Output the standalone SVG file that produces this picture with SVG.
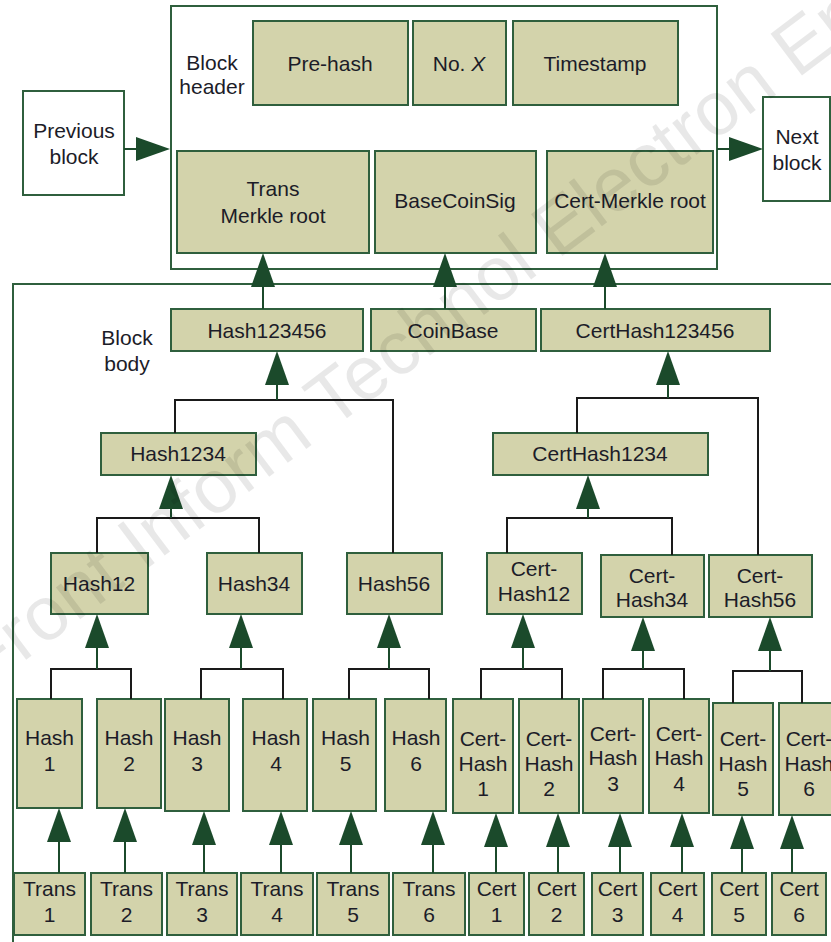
<svg xmlns="http://www.w3.org/2000/svg" width="831" height="942" viewBox="0 0 831 942">
<style>
.box{fill:#d3d3ab;stroke:#2f5f3d;stroke-width:2}
.wbox{fill:#fff;stroke:#2f5f3d;stroke-width:2}
.frame{fill:none;stroke:#2f5f3d;stroke-width:2}
text{font-family:"Liberation Sans",Arial,sans-serif;font-size:21px;fill:#1c1c28;text-anchor:middle}
.bar{fill:none;stroke:#1a1a1a;stroke-width:2}
.arr{stroke:#1b4a2b;stroke-width:2;marker-end:url(#ah)}
.wm{font-size:76px;fill:#000;fill-opacity:0.09;text-anchor:start}
</style>
<defs>
<marker id="ah" viewBox="0 0 34 24" refX="30" refY="12" markerWidth="34" markerHeight="24" markerUnits="userSpaceOnUse" orient="auto">
<path d="M0,0 L34,12 L0,24 Z" fill="#1b4a2b"/>
</marker>
</defs>
<rect width="831" height="942" fill="#fff"/>
<g id="header-frame"><rect class="frame" x="171" y="6" width="546" height="263"/><text><tspan x="212" y="69.5">Block</tspan><tspan x="212" y="93.5">header</tspan></text></g>
<g id="body-frame"><rect class="frame" x="13" y="284" width="840" height="700"/><text><tspan x="127" y="344.5">Block</tspan><tspan x="127" y="370.5">body</tspan></text></g>
<g id="prev"><rect class="wbox" x="23" y="91" width="101" height="104"/><text><tspan x="74" y="138">Previous</tspan><tspan x="74" y="164">block</tspan></text></g>
<g id="next"><rect class="wbox" x="763" y="97" width="67" height="104"/><text><tspan x="797" y="144">Next</tspan><tspan x="797" y="170">block</tspan></text></g>
<g id="prehash"><rect class="box" x="253" y="21" width="155" height="84"/><text x="330" y="70.5">Pre-hash</text></g>
<g id="nox"><rect class="box" x="413" y="21" width="93" height="84"/><text x="459" y="70.5">No. <tspan font-style="italic">X</tspan></text></g>
<g id="timestamp"><rect class="box" x="513" y="21" width="165" height="84"/><text x="595" y="70.5">Timestamp</text></g>
<g id="transroot"><rect class="box" x="177" y="151" width="192" height="102"/><text><tspan x="273" y="195.5">Trans</tspan><tspan x="273" y="222.5">Merkle root</tspan></text></g>
<g id="basecoinsig"><rect class="box" x="375" y="151" width="161" height="102"/><text x="455" y="207.5">BaseCoinSig</text></g>
<g id="certroot"><rect class="box" x="547" y="151" width="166" height="102"/><text x="630" y="207.5">Cert-Merkle root</text></g>
<g id="hash123456"><rect class="box" x="171" y="309" width="192" height="42"/><text x="267" y="337.5">Hash123456</text></g>
<g id="coinbase"><rect class="box" x="371" y="309" width="165" height="42"/><text x="453" y="337.5">CoinBase</text></g>
<g id="certhash123456"><rect class="box" x="541" y="309" width="229" height="42"/><text x="655" y="337.5">CertHash123456</text></g>
<g id="hash1234"><rect class="box" x="101" y="433" width="155" height="42"/><text x="178" y="460.5">Hash1234</text></g>
<g id="certhash1234"><rect class="box" x="493" y="433" width="215" height="42"/><text x="600" y="460.5">CertHash1234</text></g>
<g id="hash12"><rect class="box" x="51" y="553" width="97" height="61"/><text x="99" y="590.5">Hash12</text></g>
<g id="hash34"><rect class="box" x="207" y="553" width="95" height="61"/><text x="254" y="590.5">Hash34</text></g>
<g id="hash56"><rect class="box" x="347" y="553" width="95" height="61"/><text x="394" y="590.5">Hash56</text></g>
<g id="certhash12"><rect class="box" x="487" y="553" width="95" height="61"/><text><tspan x="534" y="575.5">Cert-</tspan><tspan x="534" y="600.5">Hash12</tspan></text></g>
<g id="certhash34"><rect class="box" x="601" y="555" width="103" height="62"/><text><tspan x="652" y="582.5">Cert-</tspan><tspan x="652" y="606.5">Hash34</tspan></text></g>
<g id="certhash56"><rect class="box" x="709" y="555" width="103" height="62"/><text><tspan x="760" y="582.5">Cert-</tspan><tspan x="760" y="606.5">Hash56</tspan></text></g>
<g id="hash1"><rect class="box" x="17" y="699" width="65" height="109"/><text><tspan x="49.5" y="744.5">Hash</tspan><tspan x="49.5" y="770.5">1</tspan></text></g>
<g id="hash2"><rect class="box" x="97" y="699" width="64" height="109"/><text><tspan x="129" y="744.5">Hash</tspan><tspan x="129" y="770.5">2</tspan></text></g>
<g id="hash3"><rect class="box" x="165" y="699" width="64" height="112"/><text><tspan x="197" y="744.5">Hash</tspan><tspan x="197" y="770.5">3</tspan></text></g>
<g id="hash4"><rect class="box" x="243" y="699" width="64" height="112"/><text><tspan x="276" y="744.5">Hash</tspan><tspan x="276" y="770.5">4</tspan></text></g>
<g id="hash5"><rect class="box" x="313" y="699" width="63" height="112"/><text><tspan x="345.5" y="744.5">Hash</tspan><tspan x="345.5" y="770.5">5</tspan></text></g>
<g id="hash6"><rect class="box" x="385" y="699" width="61" height="112"/><text><tspan x="416" y="744.5">Hash</tspan><tspan x="416" y="770.5">6</tspan></text></g>
<g id="certhash1"><rect class="box" x="453" y="699" width="60" height="114"/><text><tspan x="483" y="745.5">Cert-</tspan><tspan x="483" y="770.5">Hash</tspan><tspan x="483" y="795.5">1</tspan></text></g>
<g id="certhash2"><rect class="box" x="519" y="699" width="60" height="114"/><text><tspan x="549" y="745.5">Cert-</tspan><tspan x="549" y="770.5">Hash</tspan><tspan x="549" y="795.5">2</tspan></text></g>
<g id="certhash3"><rect class="box" x="583" y="699" width="60" height="114"/><text><tspan x="613" y="740.5">Cert-</tspan><tspan x="613" y="764.5">Hash</tspan><tspan x="613" y="790.5">3</tspan></text></g>
<g id="certhash4"><rect class="box" x="649" y="699" width="60" height="114"/><text><tspan x="679" y="740.5">Cert-</tspan><tspan x="679" y="764.5">Hash</tspan><tspan x="679" y="790.5">4</tspan></text></g>
<g id="certhash5"><rect class="box" x="713" y="703" width="60" height="112"/><text><tspan x="743" y="745.5">Cert-</tspan><tspan x="743" y="770.5">Hash</tspan><tspan x="743" y="795.5">5</tspan></text></g>
<g id="certhash6"><rect class="box" x="779" y="703" width="60" height="112"/><text><tspan x="809" y="745.5">Cert-</tspan><tspan x="809" y="770.5">Hash</tspan><tspan x="809" y="795.5">6</tspan></text></g>
<g id="trans1"><rect class="box" x="14" y="873" width="71" height="62"/><text><tspan x="49.5" y="895.5">Trans</tspan><tspan x="49.5" y="921.5">1</tspan></text></g>
<g id="trans2"><rect class="box" x="91" y="873" width="71" height="62"/><text><tspan x="126.5" y="895.5">Trans</tspan><tspan x="126.5" y="921.5">2</tspan></text></g>
<g id="trans3"><rect class="box" x="167" y="873" width="70" height="62"/><text><tspan x="202" y="895.5">Trans</tspan><tspan x="202" y="921.5">3</tspan></text></g>
<g id="trans4"><rect class="box" x="241" y="873" width="72" height="62"/><text><tspan x="277" y="895.5">Trans</tspan><tspan x="277" y="921.5">4</tspan></text></g>
<g id="trans5"><rect class="box" x="317" y="873" width="72" height="62"/><text><tspan x="353" y="895.5">Trans</tspan><tspan x="353" y="921.5">5</tspan></text></g>
<g id="trans6"><rect class="box" x="393" y="873" width="72" height="62"/><text><tspan x="429" y="895.5">Trans</tspan><tspan x="429" y="921.5">6</tspan></text></g>
<g id="cert1"><rect class="box" x="469" y="873" width="55" height="62"/><text><tspan x="496.5" y="895.5">Cert</tspan><tspan x="496.5" y="921.5">1</tspan></text></g>
<g id="cert2"><rect class="box" x="529" y="873" width="55" height="62"/><text><tspan x="556.5" y="895.5">Cert</tspan><tspan x="556.5" y="921.5">2</tspan></text></g>
<g id="cert3"><rect class="box" x="592" y="873" width="51" height="62"/><text><tspan x="617.5" y="895.5">Cert</tspan><tspan x="617.5" y="921.5">3</tspan></text></g>
<g id="cert4"><rect class="box" x="651" y="873" width="53" height="62"/><text><tspan x="677.5" y="895.5">Cert</tspan><tspan x="677.5" y="921.5">4</tspan></text></g>
<g id="cert5"><rect class="box" x="712" y="873" width="54" height="62"/><text><tspan x="739" y="895.5">Cert</tspan><tspan x="739" y="921.5">5</tspan></text></g>
<g id="cert6"><rect class="box" x="772" y="873" width="54" height="62"/><text><tspan x="799" y="895.5">Cert</tspan><tspan x="799" y="921.5">6</tspan></text></g>
<g id="connectors">
<path class="bar" d="M175,433 V400 H393 V553"/>
<path class="bar" d="M577,433 V398 H758 V555"/>
<path class="bar" d="M97,553 V518 H259 V553"/>
<path class="bar" d="M507,553 V518 H672 V555"/>
<path class="bar" d="M51,699 V669 H131 V699"/>
<path class="bar" d="M201,699 V669 H283 V699"/>
<path class="bar" d="M349,699 V669 H429 V699"/>
<path class="bar" d="M481,699 V669 H562 V699"/>
<path class="bar" d="M603,699 V669 H684 V699"/>
<path class="bar" d="M733,703 V671 H802 V703"/>
<line class="arr" x1="124" y1="149" x2="166" y2="149"/>
<line class="arr" x1="717" y1="149" x2="759" y2="149"/>
<line class="arr" x1="263" y1="309" x2="263" y2="257"/>
<line class="arr" x1="445" y1="309" x2="445" y2="257"/>
<line class="arr" x1="605" y1="309" x2="605" y2="257"/>
<line class="arr" x1="277" y1="400" x2="277" y2="355"/>
<line class="arr" x1="668" y1="398" x2="668" y2="355"/>
<line class="arr" x1="171" y1="518" x2="171" y2="479"/>
<line class="arr" x1="588" y1="518" x2="588" y2="479"/>
<line class="arr" x1="97" y1="669" x2="97" y2="618"/>
<line class="arr" x1="241" y1="669" x2="241" y2="618"/>
<line class="arr" x1="389" y1="669" x2="389" y2="618"/>
<line class="arr" x1="523" y1="669" x2="523" y2="618"/>
<line class="arr" x1="643" y1="669" x2="643" y2="621"/>
<line class="arr" x1="770" y1="671" x2="770" y2="621"/>
<line class="arr" x1="59" y1="873" x2="59" y2="812"/>
<line class="arr" x1="125" y1="873" x2="125" y2="812"/>
<line class="arr" x1="204" y1="873" x2="204" y2="815"/>
<line class="arr" x1="281" y1="873" x2="281" y2="815"/>
<line class="arr" x1="351" y1="873" x2="351" y2="815"/>
<line class="arr" x1="433" y1="873" x2="433" y2="815"/>
<line class="arr" x1="496" y1="873" x2="496" y2="817"/>
<line class="arr" x1="558" y1="873" x2="558" y2="817"/>
<line class="arr" x1="620" y1="873" x2="620" y2="817"/>
<line class="arr" x1="682" y1="873" x2="682" y2="817"/>
<line class="arr" x1="742" y1="873" x2="742" y2="819"/>
<line class="arr" x1="792" y1="873" x2="792" y2="819"/>
</g>
<text class="wm" x="-15" y="691" transform="rotate(-37 -15 691)">Front Inform Technol Electron Eng</text>
</svg>
